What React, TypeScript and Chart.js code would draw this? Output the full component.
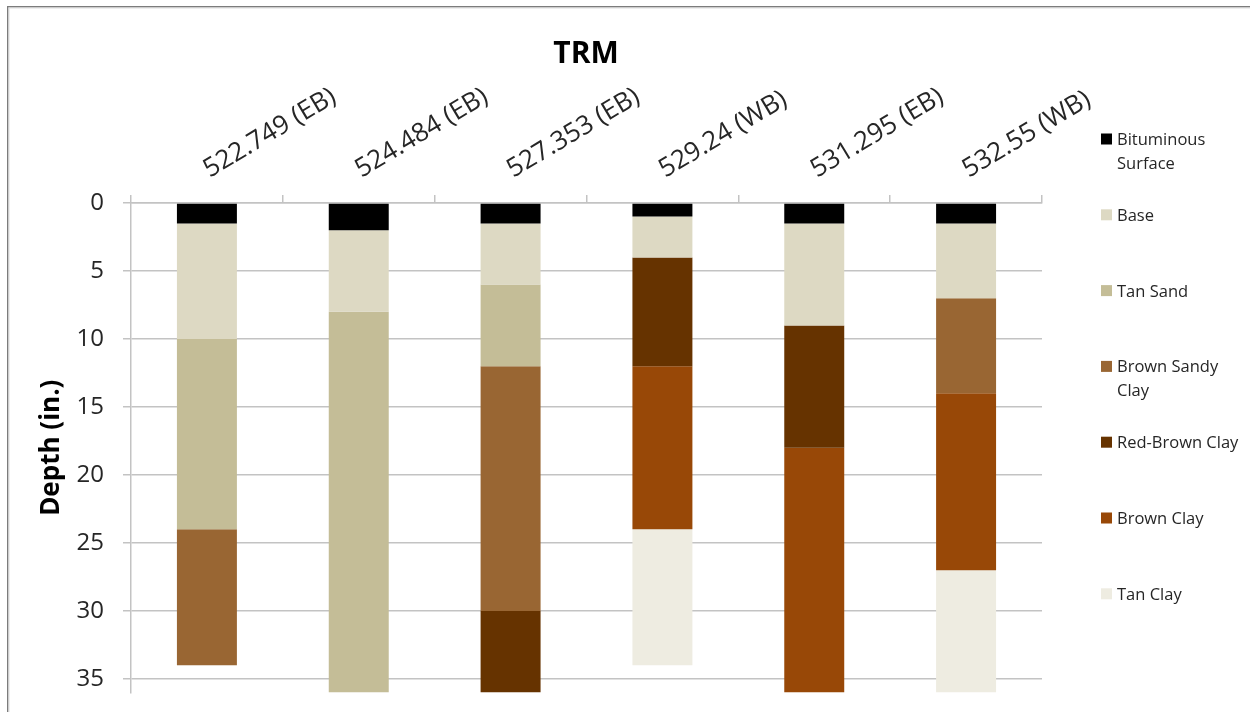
import React, { useEffect, useRef } from "react";
import { Chart, registerables } from "chart.js";

Chart.register(...registerables);

// ---- Data ----
const chartTitle = "TRM";
const yAxisTitle = "Depth (in.)";
const categories = ["522.749 (EB)", "524.484 (EB)", "527.353 (EB)", "529.24 (WB)", "531.295 (EB)", "532.55 (WB)"];
const layerNames = ["Bituminous Surface", "Base", "Tan Sand", "Brown Sandy Clay", "Red-Brown Clay", "Brown Clay", "Tan Clay"];
const layerColors = ["#000000", "#DDD9C3", "#C4BD97", "#996633", "#663300", "#984807", "#EEECE1"];
// layer thickness (in.) per boring, stacked from the surface down
const bituminousSurface = [1.5, 2, 1.5, 1, 1.5, 1.5];
const base = [8.5, 6, 4.5, 3, 7.5, 5.5];
const tanSand = [14, 28, 6, 0, 0, 0];
const brownSandyClay = [10, 0, 18, 0, 0, 7];
const redBrownClay = [0, 0, 6, 8, 9, 0];
const brownClay = [0, 0, 0, 12, 18, 13];
const tanClay = [0, 0, 0, 10, 0, 9];
const layerValues = [bituminousSurface, base, tanSand, brownSandyClay, redBrownClay, brownClay, tanClay];
const yMin = 0;
const yMax = 36;
const yStep = 5;

const FONT = '"Open Sans", "Noto Sans", sans-serif';
const GRID = "#c3c3c3";
const TEXT = "#262626";

function wrapText(ctx: CanvasRenderingContext2D, text: string, maxWidth: number): string[] {
  const words = text.split(" ");
  const lines: string[] = [];
  let cur = "";
  for (const w of words) {
    const test = cur ? cur + " " + w : w;
    if (cur && ctx.measureText(test).width > maxWidth) {
      lines.push(cur);
      cur = w;
    } else {
      cur = test;
    }
  }
  if (cur) lines.push(cur);
  return lines;
}

const decorPlugin = {
  id: "decor",
  afterDraw(chart: any) {
    const ctx: CanvasRenderingContext2D = chart.ctx;
    const W = chart.width;
    const H = chart.height;
    ctx.save();
    // frame
    ctx.fillStyle = "#7c7c7c";
    ctx.fillRect(7, 6, W - 7, 1.5);
    ctx.fillRect(7, 6, 1.5, H - 6);
    ctx.fillStyle = "#dedede";
    ctx.fillRect(8.5, 7.5, W - 8.5, 1);
    ctx.fillRect(8.5, 7.5, 1, H - 7.5);

    // title
    ctx.fillStyle = "#000000";
    ctx.font = `bold 30px ${FONT}`;
    ctx.textAlign = "center";
    ctx.textBaseline = "alphabetic";
    ctx.fillText(chartTitle, 586, 63);

    // legend
    ctx.font = `16.5px ${FONT}`;
    ctx.textAlign = "left";
    const x0 = 1101;
    const y0 = 139;
    const step = 75.8;
    chart.data.datasets.forEach((ds: any, i: number) => {
      const yc = y0 + i * step;
      ctx.fillStyle = ds.backgroundColor;
      ctx.fillRect(x0, yc - 5.5, 11, 11);
      ctx.fillStyle = TEXT;
      const lines = wrapText(ctx, ds.label, 130);
      lines.forEach((ln, j) => {
        ctx.fillText(ln, x0 + 16, yc + 5.9 + j * 23.8);
      });
    });
    ctx.restore();
  },
};

export default function App() {
  const canvasRef = useRef<HTMLCanvasElement | null>(null);

  useEffect(() => {
    let chart: Chart | null = null;
    let cancelled = false;
    const make = () => {
      if (cancelled || !canvasRef.current) return;
      chart = new Chart(canvasRef.current, {
        type: "bar",
        data: {
          labels: categories,
          datasets: layerNames.map((name, i) => ({
            label: name,
            data: layerValues[i],
            backgroundColor: layerColors[i],
            borderWidth: 0,
            categoryPercentage: 1,
            barPercentage: 0.395,
          })),
        },
        options: {
          responsive: false,
          animation: false,
          devicePixelRatio: 1,
          layout: { padding: { left: 0, top: 0, right: 208, bottom: 19.5 } },
          plugins: {
            legend: { display: false },
            title: { display: false },
            tooltip: { enabled: false },
          },
          scales: {
            x: {
              type: "category",
              position: "top",
              stacked: true,
              offset: true,
              afterFit: (scale: any) => {
                scale.height = 203;
                scale.paddingLeft = 0;
                scale.paddingRight = 0;
              },
              grid: {
                offset: true,
                drawOnChartArea: false,
                drawTicks: true,
                tickLength: 8,
                color: GRID,
                lineWidth: 1.5,
              },
              border: { display: true, color: GRID, width: 1.5 },
              ticks: {
                autoSkip: false,
                minRotation: 31,
                maxRotation: 31,
                padding: 10,
                labelOffset: 15,
                color: TEXT,
                font: { family: FONT, size: 26 },
              },
            },
            y: {
              type: "linear",
              stacked: true,
              reverse: true,
              min: yMin,
              max: yMax,
              afterFit: (scale: any) => {
                scale.width = 131;
                scale.paddingTop = 0;
                scale.paddingBottom = 0;
              },
              grid: {
                color: GRID,
                lineWidth: 1.5,
                drawTicks: true,
                tickLength: 8,
              },
              border: { display: true, color: GRID, width: 1.5 },
              ticks: {
                stepSize: yStep,
                includeBounds: false,
                padding: 19,
                color: TEXT,
                font: { family: FONT, size: 24 },
              },
              title: {
                display: true,
                text: yAxisTitle,
                color: "#000000",
                font: { family: FONT, size: 26, weight: "bold" },
                padding: { top: 36, bottom: 0 },
              },
            },
          },
        },
        plugins: [decorPlugin],
      } as any);
    };
    const fonts = (document as any).fonts;
    if (fonts && fonts.load) {
      Promise.all([
        fonts.load(`24px "Open Sans"`),
        fonts.load(`bold 24px "Open Sans"`),
      ]).then(make, make);
    } else {
      make();
    }
    return () => {
      cancelled = true;
      if (chart) chart.destroy();
    };
  }, []);

  return (
    <div style={{ position: "fixed", left: 0, top: 0, width: 1250, height: 712, background: "#ffffff" }}>
      <canvas ref={canvasRef} width={1250} height={712} style={{ width: 1250, height: 712, display: "block" }} />
    </div>
  );
}
